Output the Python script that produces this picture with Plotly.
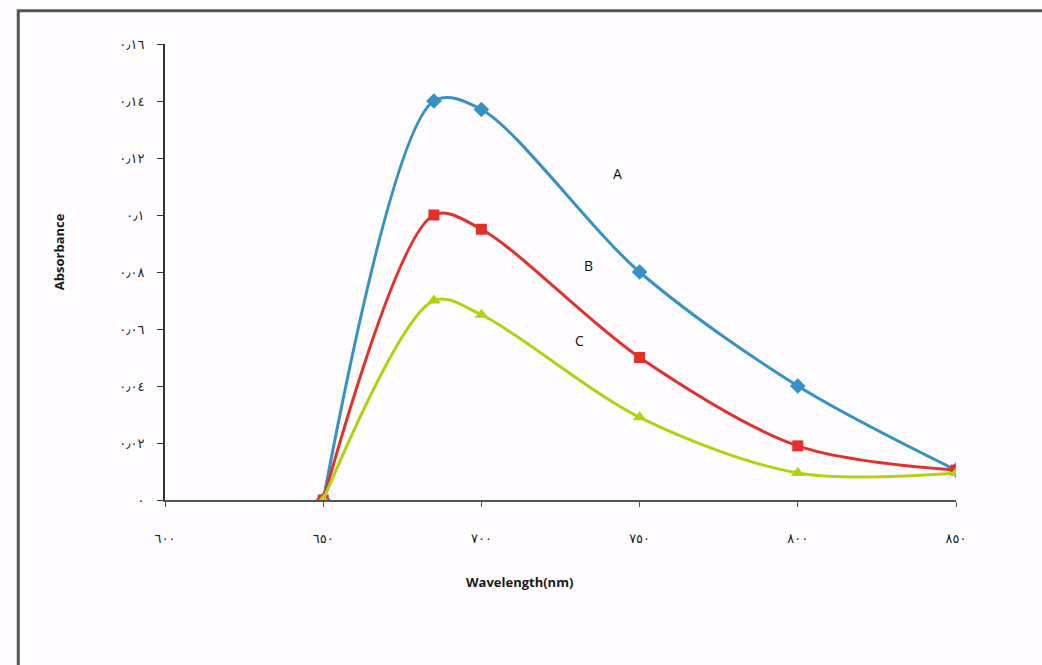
import plotly.graph_objects as go

# Wavelength (nm) and absorbance for the three samples
wavelength = [650, 685, 700, 750, 800, 850]
absorb_a = [0.0, 0.140, 0.137, 0.080, 0.040, 0.0105]
absorb_b = [0.0, 0.100, 0.095, 0.050, 0.019, 0.0105]
absorb_c = [0.0, 0.070, 0.065, 0.029, 0.0095, 0.0095]

x_ticks = [600, 650, 700, 750, 800, 850]
x_tick_text = ["٦٠٠", "٦٥٠", "٧٠٠", "٧٥٠", "٨٠٠", "٨٥٠"]
y_ticks = [0, 0.02, 0.04, 0.06, 0.08, 0.10, 0.12, 0.14, 0.16]
y_tick_text = ["٠", "٠٫٠٢", "٠٫٠٤", "٠٫٠٦", "٠٫٠٨", "٠٫١", "٠٫١٢", "٠٫١٤", "٠٫١٦"]

curve_labels = ["A", "B", "C"]
label_x = [743, 734, 731]
label_y = [0.1147, 0.0822, 0.056]

series = [
    (absorb_a, "#3591c6", "diamond", 12),
    (absorb_b, "#e3302b", "square", 11),
    (absorb_c, "#b2d20f", "triangle-up", 12),
]

fig = go.Figure()
for name, (vals, color, symbol, msize) in zip(curve_labels, series):
    fig.add_trace(go.Scatter(
        x=wavelength, y=vals, name=name,
        mode="lines+markers",
        line=dict(color=color, width=3, shape="spline", smoothing=0.9),
        marker=dict(color=color, symbol=symbol, size=msize),
        showlegend=False,
    ))

for text, lx, ly in zip(curve_labels, label_x, label_y):
    fig.add_annotation(x=lx, y=ly, text=text, showarrow=False,
                       font=dict(family="Open Sans", size=14, color="#111"))

# Axis titles
fig.add_annotation(xref="paper", yref="paper", x=0.448, y=-0.204,
                   text="<b>Wavelength(nm)</b>", showarrow=False,
                   font=dict(family="Open Sans", size=13, color="#1a1a1a"))
fig.add_annotation(xref="paper", yref="paper", x=-0.147, y=0.545,
                   text="<b>Absorbance</b>", textangle=-90, showarrow=False,
                   font=dict(family="Open Sans", size=13, color="#1a1a1a"))

# Outer chart frame
fig.add_shape(type="rect", xref="paper", yref="paper",
              x0=-0.1855, x1=1.2, y0=-0.75, y1=1.073,
              line=dict(color="#555", width=3), fillcolor="rgba(0,0,0,0)",
              layer="below")

fig.update_layout(
    width=1042, height=665,
    margin=dict(l=165, r=86, t=44, b=165),
    paper_bgcolor="#fefcfe",
    plot_bgcolor="#fefcfe",
    font=dict(family="DejaVu Sans", size=13, color="#222"),
)
fig.update_xaxes(
    range=[600, 850], tickvals=x_ticks, ticktext=x_tick_text,
    showgrid=False, zeroline=False, showline=True, linecolor="#555", linewidth=2,
    ticks="outside", ticklen=5, tickcolor="#555",
    tickfont=dict(size=13, color="#222"),
    ticklabelstandoff=20,
)
fig.update_yaxes(
    range=[0, 0.16], tickvals=y_ticks, ticktext=y_tick_text,
    showgrid=False, zeroline=False, showline=True, linecolor="#333", linewidth=2,
    ticks="outside", ticklen=6, tickcolor="#333",
    tickfont=dict(size=13, color="#222"),
    ticklabelstandoff=10,
)

fig.write_html("out.html")
